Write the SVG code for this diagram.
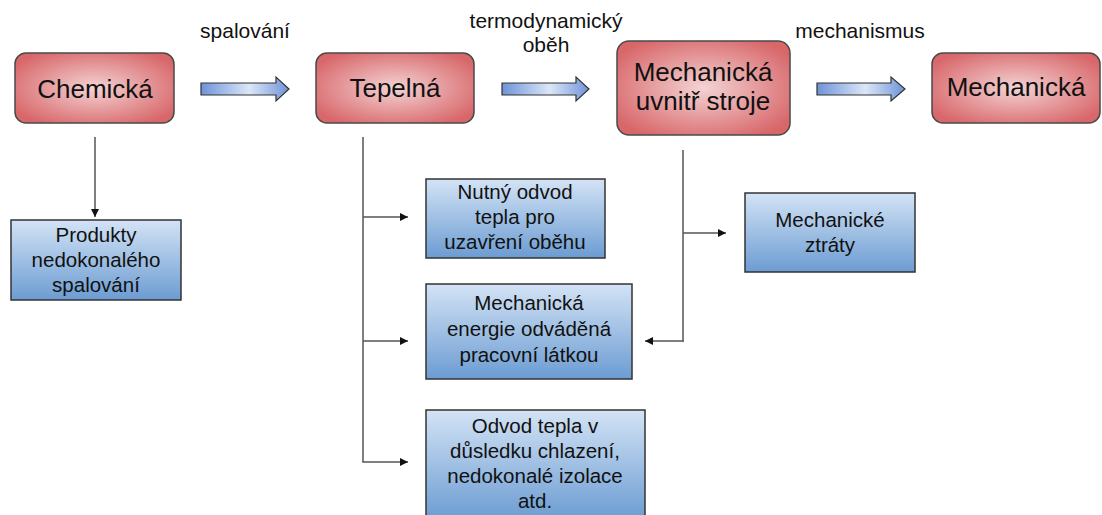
<svg xmlns="http://www.w3.org/2000/svg" width="1102" height="515" viewBox="0 0 1102 515">
<defs>
<radialGradient id="red" cx="50%" cy="50%" r="60%">
<stop offset="0" stop-color="#f4d3d4"/>
<stop offset="1" stop-color="#d8676a"/>
</radialGradient>
<linearGradient id="blue" x1="0" y1="0" x2="0" y2="1">
<stop offset="0" stop-color="#d3e3f5"/>
<stop offset="1" stop-color="#6c9cd2"/>
</linearGradient>
<linearGradient id="arr" x1="0" y1="0" x2="1" y2="0">
<stop offset="0" stop-color="#6f93d8"/>
<stop offset="0.55" stop-color="#dbe7f8"/>
<stop offset="1" stop-color="#6f93d8"/>
</linearGradient>
<marker id="ah" viewBox="0 0 10 10" refX="10" refY="5" markerWidth="10" markerHeight="8" markerUnits="userSpaceOnUse" orient="auto">
<path d="M0,0 L10,5 L0,10 z" fill="#111"/>
</marker>
</defs>
<style>
.red{fill:url(#red);stroke:#4a4a4a;stroke-width:1.5}
.blue{fill:url(#blue);stroke:#333;stroke-width:1.5}
.barrow{fill:url(#arr);stroke:#333;stroke-width:1.2}
.big{font-family:"Liberation Sans",Arial,sans-serif;font-size:26px;fill:#111;text-anchor:middle}
.t{font-family:"Liberation Sans",Arial,sans-serif;font-size:20.5px;fill:#111;text-anchor:middle}
.lbl{font-family:"Liberation Sans",Arial,sans-serif;font-size:21px;fill:#111;text-anchor:middle}
.c{fill:none;stroke:#555;stroke-width:1.5}
</style>
<g id="connectors">
<line class="c" x1="95" y1="137" x2="95" y2="217" marker-end="url(#ah)"/>
<line class="c" x1="363" y1="137" x2="363" y2="462"/>
<line class="c" x1="363" y1="217" x2="408" y2="217" marker-end="url(#ah)"/>
<line class="c" x1="363" y1="341" x2="408" y2="341" marker-end="url(#ah)"/>
<line class="c" x1="362.3" y1="462" x2="408" y2="462" marker-end="url(#ah)"/>
<line class="c" x1="683" y1="150" x2="683" y2="341.7"/>
<line class="c" x1="683" y1="233" x2="726" y2="233" marker-end="url(#ah)"/>
<line class="c" x1="683.7" y1="341" x2="645" y2="341" marker-end="url(#ah)"/>
<polygon class="barrow" points="201,83 276,83 276,77 289,89 276,101 276,95 201,95"/>
<polygon class="barrow" points="502,83 576,83 576,77 589,89 576,101 576,95 502,95"/>
<polygon class="barrow" points="817,83 891,83 891,77 905,89 891,101 891,95 817,95"/>
<text class="lbl" x="245" y="38">spalování</text>
<text class="lbl" x="546" y="28">termodynamický</text>
<text class="lbl" x="546" y="52">oběh</text>
<text class="lbl" x="860" y="38">mechanismus</text>
</g>
<g id="chemicka">
<rect class="red" x="15" y="53" width="159" height="70" rx="11"/>
<text class="big" x="95" y="98">Chemická</text>
</g>
<g id="tepelna">
<rect class="red" x="316" y="53" width="158" height="70" rx="11"/>
<text class="big" x="395" y="97">Tepelná</text>
</g>
<g id="mech-uvnitr">
<rect class="red" x="617" y="41" width="173" height="94" rx="12"/>
<text class="big" x="703" y="81">Mechanická</text>
<text class="big" x="703" y="110">uvnitř stroje</text>
</g>
<g id="mechanicka">
<rect class="red" x="932" y="53" width="168" height="70" rx="11"/>
<text class="big" x="1016" y="96">Mechanická</text>
</g>
<g id="produkty">
<rect class="blue" x="11" y="220" width="170" height="80"/>
<text class="t" x="96" y="242">Produkty</text>
<text class="t" x="96" y="267">nedokonalého</text>
<text class="t" x="96" y="292">spalování</text>
</g>
<g id="nutny">
<rect class="blue" x="426" y="179" width="179" height="79"/>
<text class="t" x="515" y="199">Nutný odvod</text>
<text class="t" x="515" y="224">tepla pro</text>
<text class="t" x="515" y="249">uzavření oběhu</text>
</g>
<g id="mech-energie">
<rect class="blue" x="426" y="284" width="206" height="95"/>
<text class="t" x="529" y="310">Mechanická</text>
<text class="t" x="529" y="336">energie odváděná</text>
<text class="t" x="529" y="362">pracovní látkou</text>
</g>
<g id="odvod">
<rect class="blue" x="426" y="410" width="219" height="110"/>
<text class="t" x="535" y="433">Odvod tepla v</text>
<text class="t" x="535" y="458">důsledku chlazení,</text>
<text class="t" x="535" y="483">nedokonalé izolace</text>
<text class="t" x="535" y="508">atd.</text>
</g>
<g id="ztraty">
<rect class="blue" x="745" y="193" width="170" height="79"/>
<text class="t" x="830" y="227">Mechanické</text>
<text class="t" x="830" y="252">ztráty</text>
</g>
</svg>
